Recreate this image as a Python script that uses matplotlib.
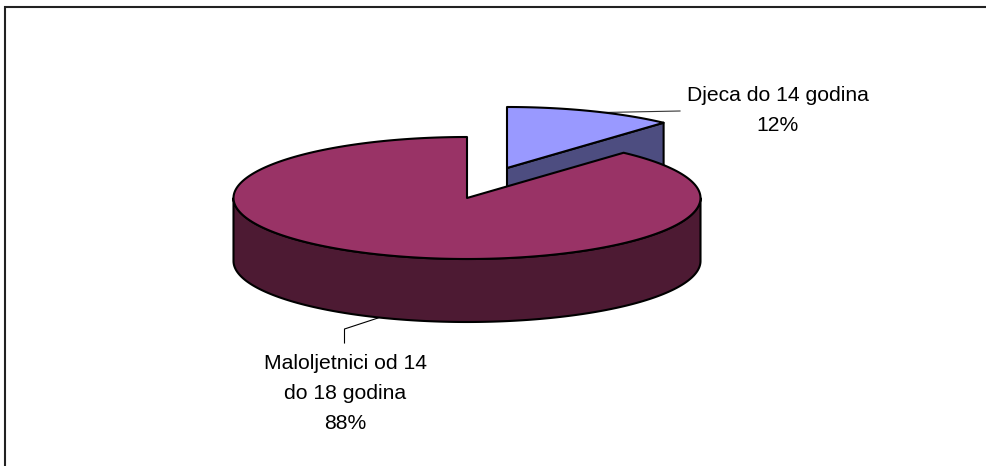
import numpy as np
import matplotlib
matplotlib.use("Agg")
import matplotlib.pyplot as plt
from matplotlib.patches import Polygon

categories = ["Djeca do 14 godina", "Maloljetnici od 14\ndo 18 godina"]
shares = [11.7, 88.3]
top_colors = ["#9999FF", "#993366"]
side_colors = ["#4D4D80", "#4D1A33"]

W, H = 987, 466
plt.rcParams["font.family"] = "Liberation Sans"
fig = plt.figure(figsize=(W / 100, H / 100), dpi=100)
ax = fig.add_axes([0, 0, 1, 1])
ax.set_xlim(0, W)
ax.set_ylim(H, 0)
ax.axis("off")

RX, RY, DEPTH = 233.5, 61, 63
centers = [(507, 168), (467, 198)]
EDGE = dict(edgecolor="black", linewidth=1.5, joinstyle="round")


def rim(c, a0, a1):
    t = np.radians(np.linspace(a0, a1, 300))
    return np.column_stack([c[0] + RX * np.sin(t), c[1] - RY * np.cos(t)])


angles = np.cumsum([0] + shares) * 3.6

# small slice: cut face, top
c = centers[0]
a0, a1 = angles[0], angles[1]
end = rim(c, a1, a1)[0]
ax.add_patch(Polygon([c, end, end + [0, DEPTH], (c[0], c[1] + DEPTH)],
                     facecolor=side_colors[0], **EDGE, zorder=1))
ax.add_patch(Polygon(np.vstack([[c], rim(c, a0, a1)]), facecolor=top_colors[0], **EDGE, zorder=2))

# large slice: outer side (front half only), top
c = centers[1]
a0, a1 = angles[1], angles[2]
front = rim(c, 90, 270)
side = np.vstack([front, (front + [0, DEPTH])[::-1]])
ax.add_patch(Polygon(side, facecolor=side_colors[1], **EDGE, zorder=3))
ax.add_patch(Polygon(np.vstack([[c], rim(c, a0, a1)]), facecolor=top_colors[1], **EDGE, zorder=4))

# leader lines
ax.plot([603, 680], [112.5, 111], color="#333333", lw=0.8, zorder=0.5)
ax.plot([344.5, 344.5, 378], [343, 329, 318], color="black", lw=0.8, zorder=5)

# labels
ax.text(778, 110.5, f"{categories[0]}\n{round(shares[0])}%", ha="center", va="center",
        fontsize=15.2, linespacing=1.72, color="black")
ax.text(345.5, 393.5, f"{categories[1]}\n{round(shares[1])}%", ha="center", va="center",
        fontsize=15.2, linespacing=1.72, color="black")

# chart frame: only left and top edges are visible
ax.plot([5, 5, W], [H, 6.8, 6.8], color="#222222", lw=1.5, zorder=6, solid_joinstyle="miter")

fig.savefig("out.png", dpi=100, facecolor="white")
